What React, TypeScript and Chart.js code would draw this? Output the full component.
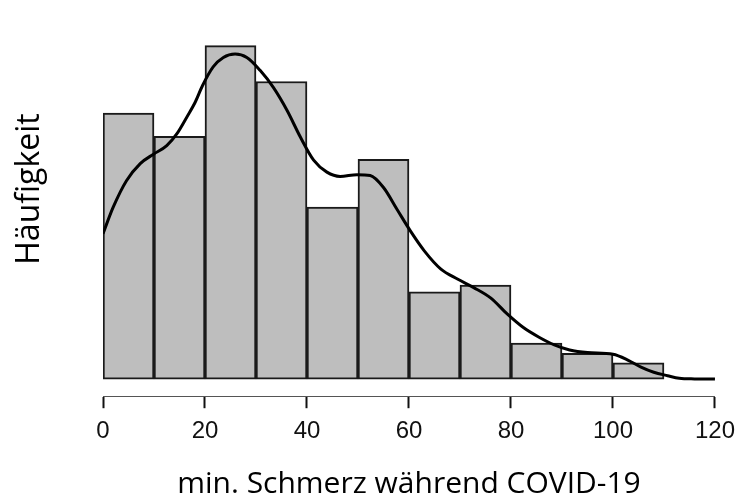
import React, { useEffect, useRef } from "react";
import { Chart, registerables } from "chart.js";

Chart.register(...registerables);

// ---- data ----
const BIN_STARTS = [0, 10, 20, 30, 40, 50, 60, 70, 80, 90, 100];
const BIN_WIDTH = 10;
const COUNTS = [31.1, 28.4, 39, 34.8, 20.1, 25.7, 10.2, 11, 4.2, 3, 1.9];

const DENSITY_X = [0, 2, 4.6, 7.3, 9.9, 12.5, 14.5, 16.4, 18.1, 19.5, 21.6, 23.6, 25.9, 28.2, 30.8, 33.4, 36.1, 38.7, 41.3, 43.9, 46.5, 49.8, 52.4, 55.0, 57.7, 60.3, 63.0, 66.2, 69.5, 72.7, 76.0, 79.3, 82.5, 85.5, 88.5, 91.5, 95, 100, 103, 105.5, 108, 110.7, 113, 116, 120];
const DENSITY_Y = [17.0, 20.1, 23.2, 25.2, 26.3, 27.3, 28.7, 30.6, 32.4, 34.3, 36.5, 37.6, 38.0, 37.6, 36.1, 34.1, 31.4, 28.3, 25.6, 24.2, 23.7, 23.9, 23.8, 22.4, 19.8, 17.3, 15.0, 12.9, 11.7, 10.7, 9.5, 7.6, 6.0, 4.9, 4.0, 3.4, 3.1, 2.9, 2.2, 1.4, 0.8, 0.4, 0.1, 0.02, 0];

const X_TICK_STEP = 20;
const X_MIN = 0;
const X_MAX = 120;
const X_TITLE = "min. Schmerz während COVID-19";
const Y_TITLE = "Häufigkeit";

const yTitlePlugin = {
  id: "yTitleCustom",
  afterDraw(chart: any) {
    const ctx = chart.ctx;
    ctx.save();
    ctx.translate(30, 189);
    ctx.rotate(-Math.PI / 2);
    ctx.font = '32px "Open Sans"';
    ctx.fillStyle = "#000";
    ctx.textAlign = "center";
    ctx.textBaseline = "middle";
    ctx.fillText(Y_TITLE, 0, 0);
    ctx.restore();
  },
};

export default function App() {
  const ref = useRef<HTMLCanvasElement | null>(null);

  useEffect(() => {
    if (!ref.current) return;
    const barData = BIN_STARTS.map((s, i) => ({ x: s + BIN_WIDTH / 2, y: COUNTS[i] }));
    const lineData = DENSITY_X.map((x, i) => ({ x, y: DENSITY_Y[i] }));
    const chart = new Chart(ref.current, {
      type: "bar",
      data: {
        datasets: [
          {
            type: "bar",
            data: barData as any,
            backgroundColor: "#bebebe",
            borderColor: "#1a1a1a",
            borderWidth: 2,
            borderSkipped: false,
            barPercentage: 1,
            categoryPercentage: 1,
            order: 2,
          },
          {
            type: "line",
            data: lineData as any,
            borderColor: "#000",
            borderWidth: 3,
            pointRadius: 0,
            fill: false,
            cubicInterpolationMode: "monotone",
            order: 1,
          } as any,
        ],
      },
      options: {
        animation: false,
        responsive: false,
        maintainAspectRatio: false,
        layout: { padding: { left: 103, right: 29, top: 37, bottom: 0 } },
        plugins: { legend: { display: false }, tooltip: { enabled: false } },
        scales: {
          x: {
            type: "linear",
            min: X_MIN,
            max: X_MAX,
            offset: false,
            ticks: {
              stepSize: X_TICK_STEP,
              font: { family: "Liberation Sans", size: 24 },
              color: "#111",
              padding: 9,
              maxRotation: 0,
            },
            grid: {
              offset: false,
              drawOnChartArea: false,
              drawTicks: true,
              tickLength: 12,
              tickWidth: 2,
              tickColor: "#111",
            },
            border: { display: true, color: "#555", width: 1 },
            title: {
              display: true,
              text: X_TITLE,
              font: { family: "Open Sans", size: 30 },
              color: "#000",
              padding: { top: 11, bottom: 0 },
            },
          },
          y: {
            display: false,
            min: -2,
            max: 40,
          },
        },
      },
      plugins: [yTitlePlugin],
    });
    return () => chart.destroy();
  }, []);

  return (
    <div style={{ position: "fixed", left: 0, top: 0, width: 744, height: 502, background: "#fff" }}>
      <canvas ref={ref} width={744} height={502} style={{ width: 744, height: 502 }} />
    </div>
  );
}
